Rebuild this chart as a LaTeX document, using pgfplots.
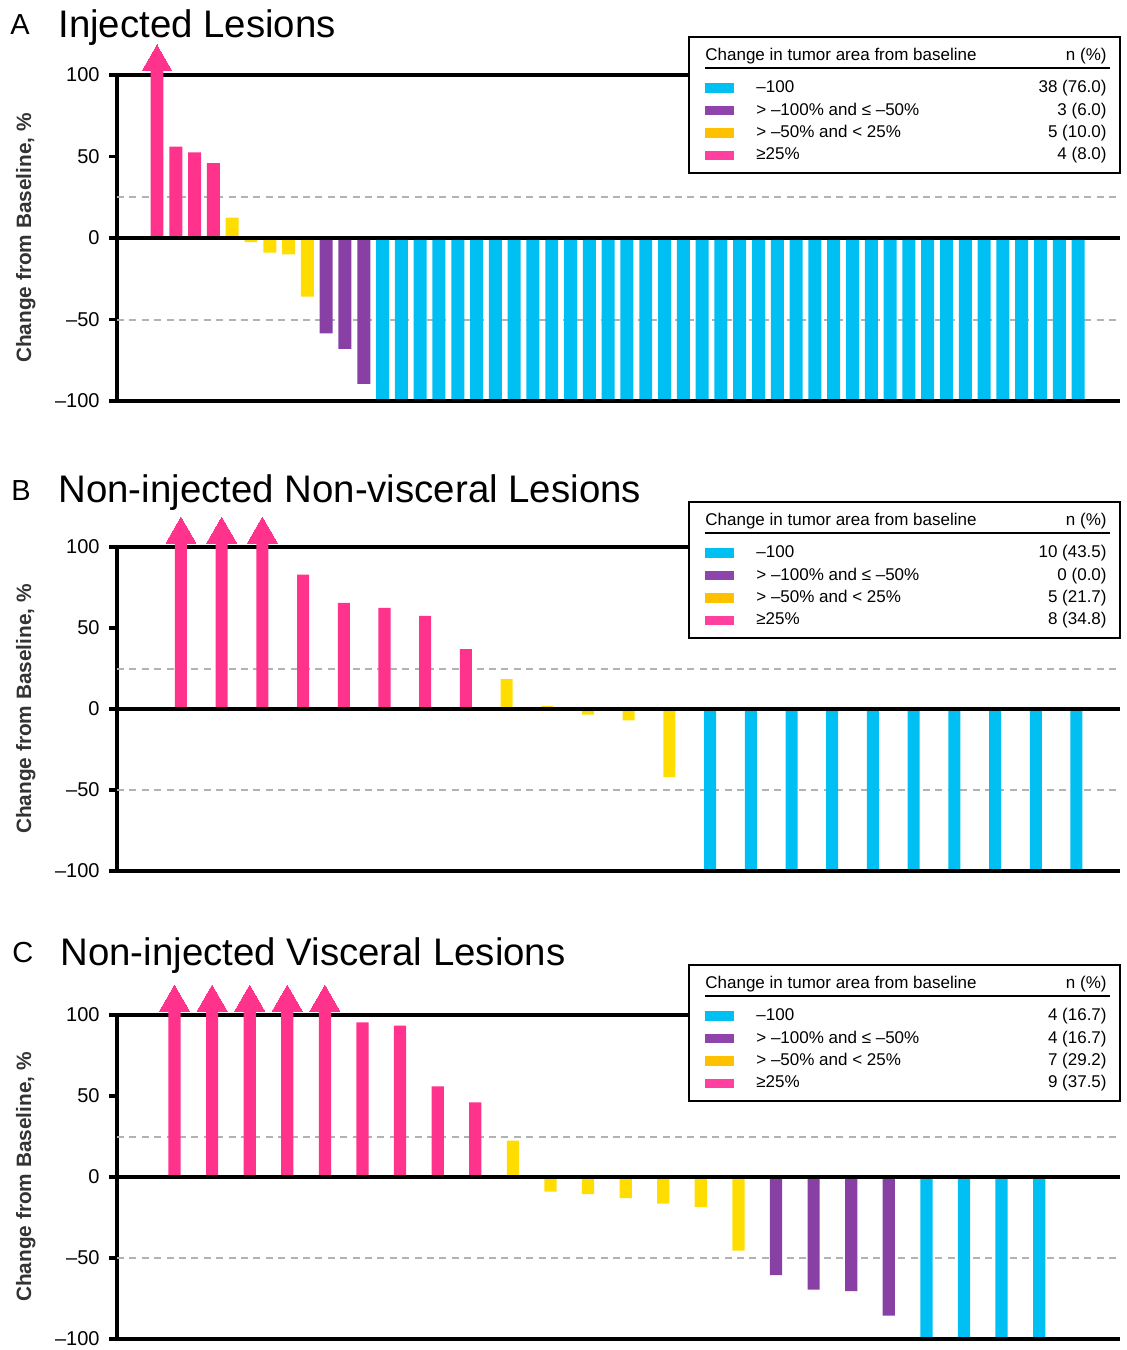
\documentclass[border=0pt]{standalone}
\usepackage{fontspec}
\setmainfont{Liberation Sans}
\usepackage{pgfplots}
\pgfplotsset{compat=1.18}

\definecolor{cyanC}{RGB}{0,192,243}
\definecolor{purpleC}{RGB}{137,64,165}
\definecolor{yellowC}{RGB}{255,221,0}
\definecolor{pinkC}{RGB}{255,51,140}
\definecolor{yellowL}{RGB}{255,192,0}
\definecolor{pinkL}{RGB}{255,64,160}
\definecolor{purpleL}{RGB}{142,68,170}
\definecolor{refgray}{RGB}{178,178,178}

\pgfplotsset{
  waterfall/.style={
    scale only axis, width=501.5pt, anchor=north west,
    ymin=-100, ymax=100, clip=false,
    axis x line=none, axis y line=left,
    axis line style={line width=1.65pt, -, line cap=rect},
    y axis line style={-},
    xtick=\empty,
    ytick={-100,-50,0,50,100},
    yticklabels={\textendash100,\textendash50,0,50,100},
    tick align=outside,
    major tick length=4pt,
    every tick/.style={black, line width=1.65pt},
    yticklabel style={font=\fontsize{10}{12}\selectfont, inner sep=0pt, anchor=east, xshift=-4.5pt},
    ylabel={Change from Baseline, \%},
    ylabel style={at={(axis description cs:-0.091,0.5)}, anchor=center,
      font=\bfseries\fontsize{10.4}{12}\selectfont, text=black!80},
  },
  wbar/.style={ybar, bar shift=0pt, draw=none, fill=#1},
  refline/.style={draw=refgray, line width=1pt, dash pattern=on 3.5pt off 2.7pt},
  frame/.style={black, line width=1.65pt},
  tip/.style={only marks, mark=triangle*, mark size=8.65pt,
    mark options={fill=pinkC, draw=pinkC, line width=0pt}},
}

\newcommand{\legfont}{\fontsize{8.5}{10}\selectfont}
% #1 top right corner, #2-#5 counts
\newcommand{\lesionlegend}[5]{%
  \begin{scope}[shift={#1}]
    \filldraw[fill=white, draw=black, line width=0.9pt] (-215.5pt,0) rectangle (0,-68pt);
    \node[anchor=base west, inner sep=0pt, font=\legfont] at (-207.5pt,-11.85pt) {Change in tumor area from baseline};
    \node[anchor=base east, inner sep=0pt, font=\legfont] at (-6.5pt,-11.85pt) {n (\%)};
    \draw[line width=1pt] (-207.5pt,-15.65pt) -- (-5pt,-15.65pt);
    \fill[cyanC] (-207.5pt,-27.85pt) rectangle ++(14.5pt,4.7pt);
    \fill[purpleL] (-207.5pt,-39.05pt) rectangle ++(14.5pt,4.7pt);
    \fill[yellowL] (-207.5pt,-50.25pt) rectangle ++(14.5pt,4.7pt);
    \fill[pinkL] (-207.5pt,-61.45pt) rectangle ++(14.5pt,4.7pt);
    \node[anchor=base west, inner sep=0pt, font=\legfont] at (-182pt,-27.85pt) {–100};
    \node[anchor=base west, inner sep=0pt, font=\legfont] at (-182pt,-39.05pt) {> –100\% and ≤ –50\%};
    \node[anchor=base west, inner sep=0pt, font=\legfont] at (-182pt,-50.25pt) {> –50\% and < 25\%};
    \node[anchor=base west, inner sep=0pt, font=\legfont] at (-182pt,-61.45pt) {≥25\%};
    \node[anchor=base east, inner sep=0pt, font=\legfont] at (-6.5pt,-27.85pt) {#2};
    \node[anchor=base east, inner sep=0pt, font=\legfont] at (-6.5pt,-39.05pt) {#3};
    \node[anchor=base east, inner sep=0pt, font=\legfont] at (-6.5pt,-50.25pt) {#4};
    \node[anchor=base east, inner sep=0pt, font=\legfont] at (-6.5pt,-61.45pt) {#5};
  \end{scope}}

\begin{document}
\begin{tikzpicture}

% ---------------- A: injected lesions
\begin{axis}[waterfall, at={(58.5pt,-37.5pt)}, height=163pt,
  xmin=-1.128, xmax=52.23, bar width=0.69]
\addplot[refline] coordinates {(-1.128,25) (52.23,25)};
\addplot[refline] coordinates {(-1.128,-50) (52.23,-50)};
\addplot[frame] coordinates {(-1.128,100) (52.23,100)};
\addplot[wbar=pinkC] coordinates {(1,103) (2,56) (3,52.5) (4,46)};
\addplot[wbar=yellowC] coordinates {(5,12.5) (6,-2.5) (7,-9) (8,-10) (9,-36)};
\addplot[wbar=purpleC] coordinates {(10,-58.5) (11,-68) (12,-89.5)};
\addplot[wbar=cyanC] coordinates {
  (13,-100) (14,-100) (15,-100) (16,-100) (17,-100) (18,-100) (19,-100) (20,-100)
  (21,-100) (22,-100) (23,-100) (24,-100) (25,-100) (26,-100) (27,-100) (28,-100)
  (29,-100) (30,-100) (31,-100) (32,-100) (33,-100) (34,-100) (35,-100) (36,-100)
  (37,-100) (38,-100) (39,-100) (40,-100) (41,-100) (42,-100) (43,-100) (44,-100)
  (45,-100) (46,-100) (47,-100) (48,-100) (49,-100) (50,-100)};
\addplot[tip] coordinates {(1,107.8)};
\addplot[frame] coordinates {(-1.128,0) (52.23,0)};
\addplot[frame] coordinates {(-1.128,-100) (52.23,-100)};
\end{axis}
\node[anchor=base west, inner sep=0pt, font=\fontsize{14.5}{16}\selectfont] at (5pt,-17pt) {A};
\node[anchor=base west, inner sep=0pt, font=\fontsize{19.2}{22}\selectfont] at (29pt,-18.5pt) {Injected Lesions};
\lesionlegend{(560pt,-18.5pt)}{38 (76.0)}{3 (6.0)}{5 (10.0)}{4 (8.0)}

% ---------------- B: non-injected non-visceral lesions
\begin{axis}[waterfall, at={(58.5pt,-273.5pt)}, height=162pt,
  xmin=-0.572, xmax=24.07, bar width=0.295]
\addplot[refline] coordinates {(-0.572,25) (24.07,25)};
\addplot[refline] coordinates {(-0.572,-50) (24.07,-50)};
\addplot[frame] coordinates {(-0.572,100) (24.07,100)};
\addplot[wbar=pinkC] coordinates {(1,103) (2,103) (3,103) (4,83) (5,65.5) (6,62.5) (7,57.5) (8,37)};
\addplot[wbar=yellowC] coordinates {(9,18.5) (10,2) (11,-3.5) (12,-7) (13,-42)};
\addplot[wbar=cyanC] coordinates {
  (14,-100) (15,-100) (16,-100) (17,-100) (18,-100)
  (19,-100) (20,-100) (21,-100) (22,-100) (23,-100)};
\addplot[tip] coordinates {(1,107.8) (2,107.8) (3,107.8)};
\addplot[frame] coordinates {(-0.572,0) (24.07,0)};
\addplot[frame] coordinates {(-0.572,-100) (24.07,-100)};
\end{axis}
\node[anchor=base west, inner sep=0pt, font=\fontsize{14.5}{16}\selectfont] at (5.5pt,-250pt) {B};
\node[anchor=base west, inner sep=0pt, font=\fontsize{19.2}{22}\selectfont] at (29pt,-251pt) {Non-injected Non-visceral Lesions};
\lesionlegend{(560pt,-251pt)}{10 (43.5)}{0 (0.0)}{5 (21.7)}{8 (34.8)}

% ---------------- C: non-injected visceral lesions
\begin{axis}[waterfall, at={(58.5pt,-507.5pt)}, height=162pt,
  xmin=-0.53, xmax=26.15, bar width=0.325]
\addplot[refline] coordinates {(-0.53,25) (26.15,25)};
\addplot[refline] coordinates {(-0.53,-50) (26.15,-50)};
\addplot[frame] coordinates {(-0.53,100) (26.15,100)};
\addplot[wbar=pinkC] coordinates {(1,103) (2,103) (3,103) (4,103) (5,103) (6,95.5) (7,93.5) (8,56) (9,46)};
\addplot[wbar=yellowC] coordinates {(10,22.5) (11,-9) (12,-10.5) (13,-13) (14,-16.5) (15,-18.5) (16,-45.5)};
\addplot[wbar=purpleC] coordinates {(17,-60.5) (18,-69.5) (19,-70.5) (20,-85.5)};
\addplot[wbar=cyanC] coordinates {(21,-100) (22,-100) (23,-100) (24,-100)};
\addplot[tip] coordinates {(1,107.8) (2,107.8) (3,107.8) (4,107.8) (5,107.8)};
\addplot[frame] coordinates {(-0.53,0) (26.15,0)};
\addplot[frame] coordinates {(-0.53,-100) (26.15,-100)};
\end{axis}
\node[anchor=base west, inner sep=0pt, font=\fontsize{14.5}{16}\selectfont] at (6pt,-481pt) {C};
\node[anchor=base west, inner sep=0pt, font=\fontsize{19.2}{22}\selectfont] at (30pt,-482.5pt) {Non-injected Visceral Lesions};
\lesionlegend{(560pt,-482.5pt)}{4 (16.7)}{4 (16.7)}{7 (29.2)}{9 (37.5)}

\pgfresetboundingbox
\path[use as bounding box] (0,0) rectangle (563pt,-675pt);
\end{tikzpicture}
\end{document}
